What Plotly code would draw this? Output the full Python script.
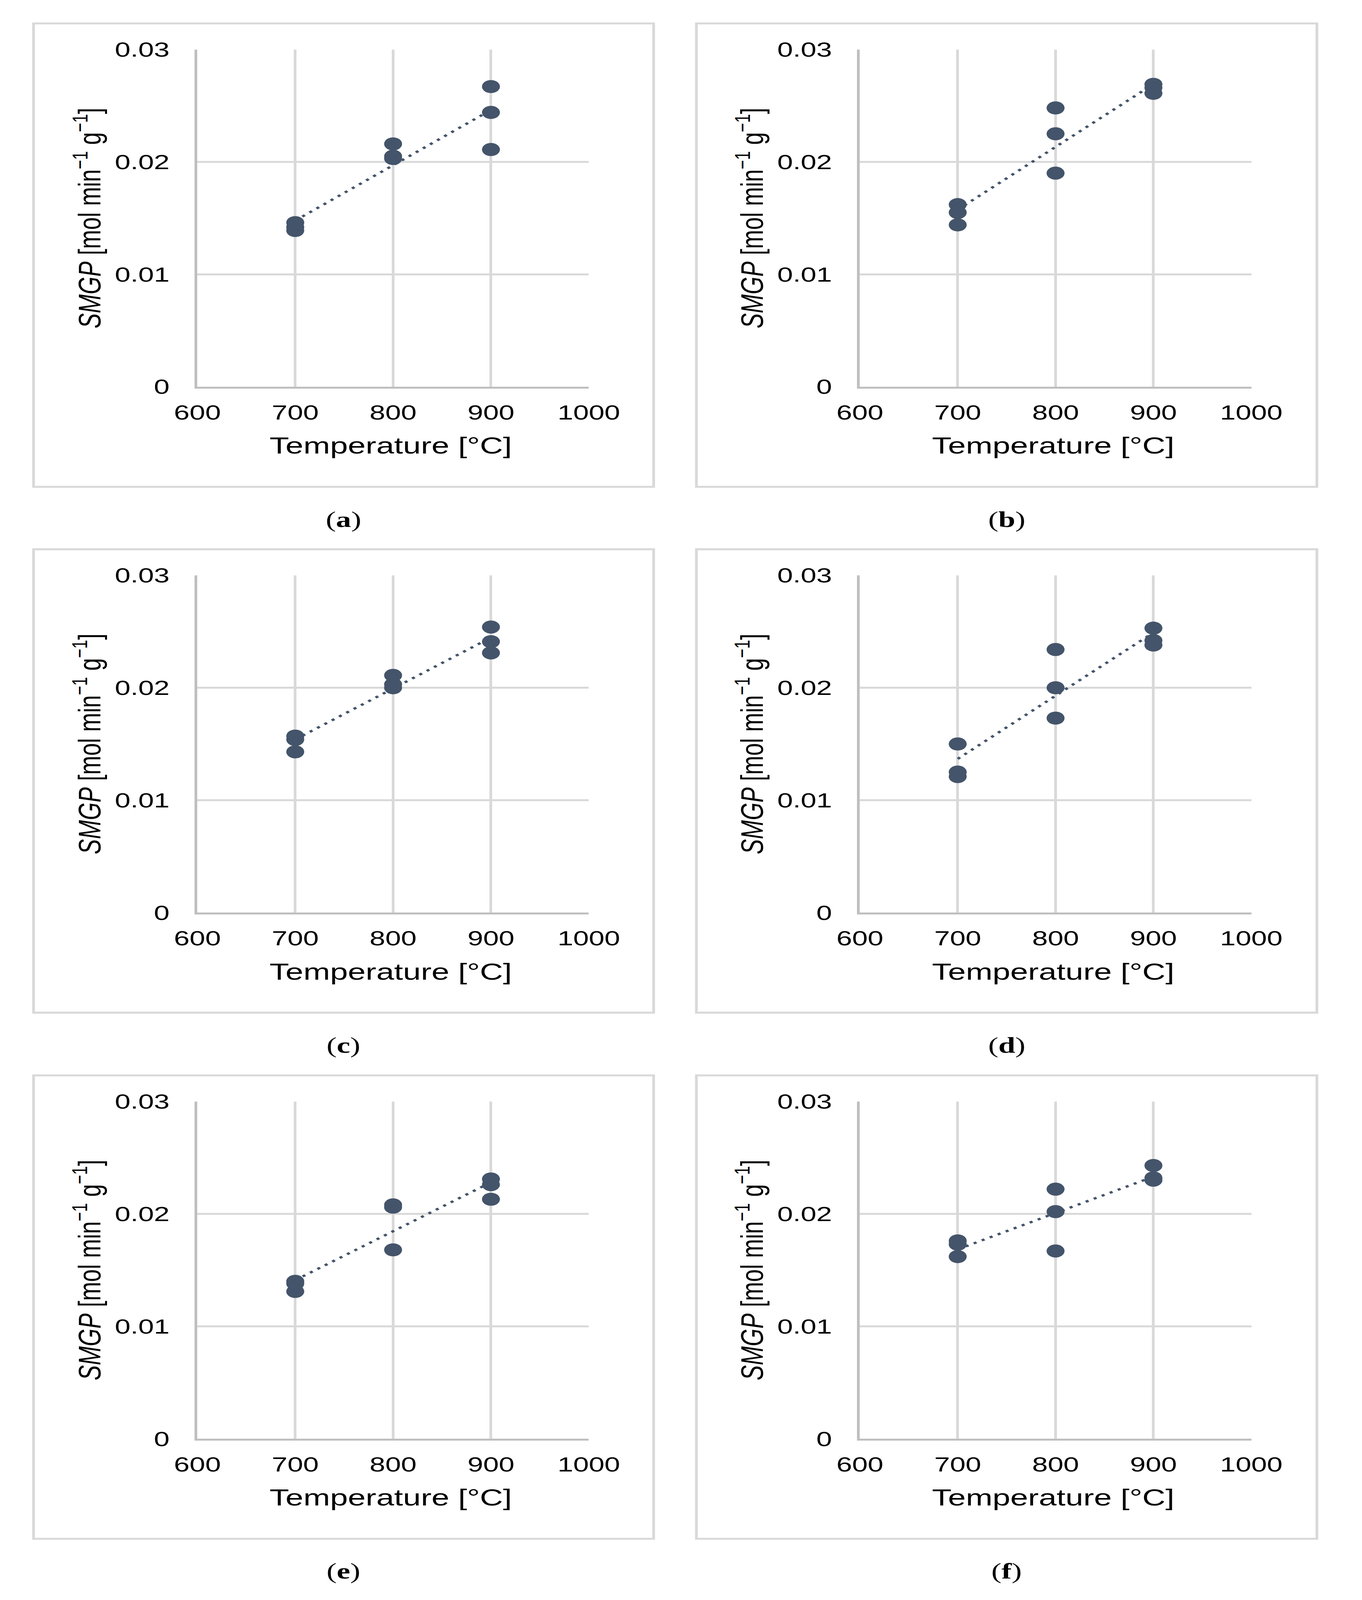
import numpy as np
import plotly.graph_objects as go

W, H = 3487, 5630

# ---- data ----
temperature = [700, 700, 700, 800, 800, 800, 900, 900, 900]
smgp_a = [0.0146, 0.0142, 0.0139, 0.0216, 0.0205, 0.0203, 0.0267, 0.0244, 0.0211]
smgp_b = [0.0162, 0.0155, 0.0144, 0.0248, 0.0225, 0.0190, 0.0269, 0.0266, 0.0261]
smgp_c = [0.0157, 0.0154, 0.0143, 0.0211, 0.0203, 0.0200, 0.0254, 0.0241, 0.0231]
smgp_d = [0.0150, 0.0125, 0.0121, 0.0234, 0.0200, 0.0173, 0.0253, 0.0242, 0.0238]
smgp_e = [0.0140, 0.0138, 0.0131, 0.0208, 0.0206, 0.0168, 0.0231, 0.0226, 0.0213]
smgp_f = [0.0176, 0.0173, 0.0162, 0.0222, 0.0202, 0.0167, 0.0243, 0.0232, 0.0230]
panel_labels = ["a", "b", "c", "d", "e", "f"]
x_ticks = [600, 700, 800, 900, 1000]
y_ticks = [0, 0.01, 0.02, 0.03]

series = [smgp_a, smgp_b, smgp_c, smgp_d, smgp_e, smgp_f]

# ---- layout geometry (pixels of the 3487x5630 reference) ----
col_plot_left = [464, 2231]
plot_w = 1044
row_plot_top = [136, 2013, 3891]
plot_h = 1204
col_box = [(27, 1681), (1795, 3450)]
row_box_top = [43, 1920, 3798]
box_h = 1654

MARK = "#44546A"
GRID = "#D9D9D9"
AXL = "#BFBFBF"
FONT = "Liberation Sans, Arial, sans-serif"

def px(x):
    return x / W

def py(y):
    return 1 - y / H

fig = go.Figure()
layout = dict(width=W, height=H, margin=dict(l=0, r=0, t=0, b=0),
              paper_bgcolor="white", plot_bgcolor="white", showlegend=False)
shapes, annotations = [], []

for i, vals in enumerate(series):
    r, c = divmod(i, 2)
    n = "" if i == 0 else str(i + 1)
    xa, ya = "x" + n, "y" + n
    x0 = col_plot_left[c]
    y0 = row_plot_top[r]
    layout["xaxis" + n] = dict(
        domain=[px(x0), px(x0 + plot_w)], anchor=ya, range=[600, 1000],
        tickvals=x_ticks, showgrid=True, gridcolor=GRID, gridwidth=7,
        showline=True, linecolor=AXL, linewidth=7, zeroline=False,
        ticks="", ticklabelstandoff=22,
        tickfont=dict(family=FONT, size=72, color="#000"))
    layout["yaxis" + n] = dict(
        domain=[py(y0 + plot_h), py(y0)], anchor=xa, range=[0, 0.03],
        tickvals=y_ticks, ticktext=[f"{v:g}" for v in y_ticks],
        showgrid=True, gridcolor=GRID, gridwidth=7,
        showline=True, linecolor=AXL, linewidth=7, zeroline=False,
        ticks="", ticklabelstandoff=50,
        tickfont=dict(family=FONT, size=72, color="#000"))

    # linear trendline (least squares of the points, like Excel)
    k, b0 = np.polyfit(temperature, vals, 1)
    tx = [min(temperature), max(temperature)]
    fig.add_trace(go.Scatter(x=tx, y=[k * t + b0 for t in tx], mode="lines",
                             line=dict(color=MARK, width=8, dash="8px,15px"),
                             xaxis=xa, yaxis=ya, hoverinfo="skip"))
    fig.add_trace(go.Scatter(x=temperature, y=vals, mode="markers",
                             marker=dict(color=MARK, size=46),
                             xaxis=xa, yaxis=ya))

    bx0, bx1 = col_box[c]
    by0 = row_box_top[r]
    shapes.append(dict(type="rect", xref="paper", yref="paper",
                       x0=px(bx0), x1=px(bx1), y0=py(by0), y1=py(by0 + box_h),
                       line=dict(color=GRID, width=7), layer="below"))
    annotations.append(dict(xref="paper", yref="paper",
                            x=px(x0 + plot_w / 2 - 6), y=py(y0 + plot_h + 210),
                            text="Temperature [°C]", showarrow=False,
                            xanchor="center", yanchor="middle",
                            font=dict(family=FONT, size=82, color="#000")))
    annotations.append(dict(xref="paper", yref="paper",
                            x=px(x0 - 294), y=py(y0 + plot_h / 2),
                            text="<i>SMGP</i> [mol min<sup>−1</sup> g<sup>−1</sup>]",
                            textangle=-90, showarrow=False,
                            xanchor="center", yanchor="middle",
                            font=dict(family=FONT, size=80, color="#000")))
    annotations.append(dict(xref="paper", yref="paper",
                            x=px((bx0 + bx1) / 2), y=py(by0 + box_h + 116),
                            text=f"(<b>{panel_labels[i]}</b>)", showarrow=False,
                            xanchor="center", yanchor="middle",
                            font=dict(family="Liberation Serif, Times New Roman, serif",
                                      size=78, color="#000")))

layout["shapes"] = shapes
layout["annotations"] = annotations
fig.update_layout(**layout)

# The browser viewport may be shorter than the requested 5630 px (it is capped);
# scale the whole figure so that it fits the visible window exactly.
fit_js = """
(function(){
  document.documentElement.style.margin='0';
  document.documentElement.style.overflow='hidden';
  document.body.style.margin='0';
  document.body.style.overflow='hidden';
  document.body.style.background='white';
  var gd = document.querySelector('.plotly-graph-div');
  var sx = Math.min(1, window.innerWidth / %d);
  var sy = Math.min(1, window.innerHeight / %d);
  if (gd && (sx < 1 || sy < 1)) {
    gd.style.transformOrigin = '0 0';
    gd.style.transform = 'scale(' + sx + ',' + sy + ')';
  }
})();
""" % (W, H)
fig.write_html("out.html", config={"displayModeBar": False}, post_script=fit_js)
